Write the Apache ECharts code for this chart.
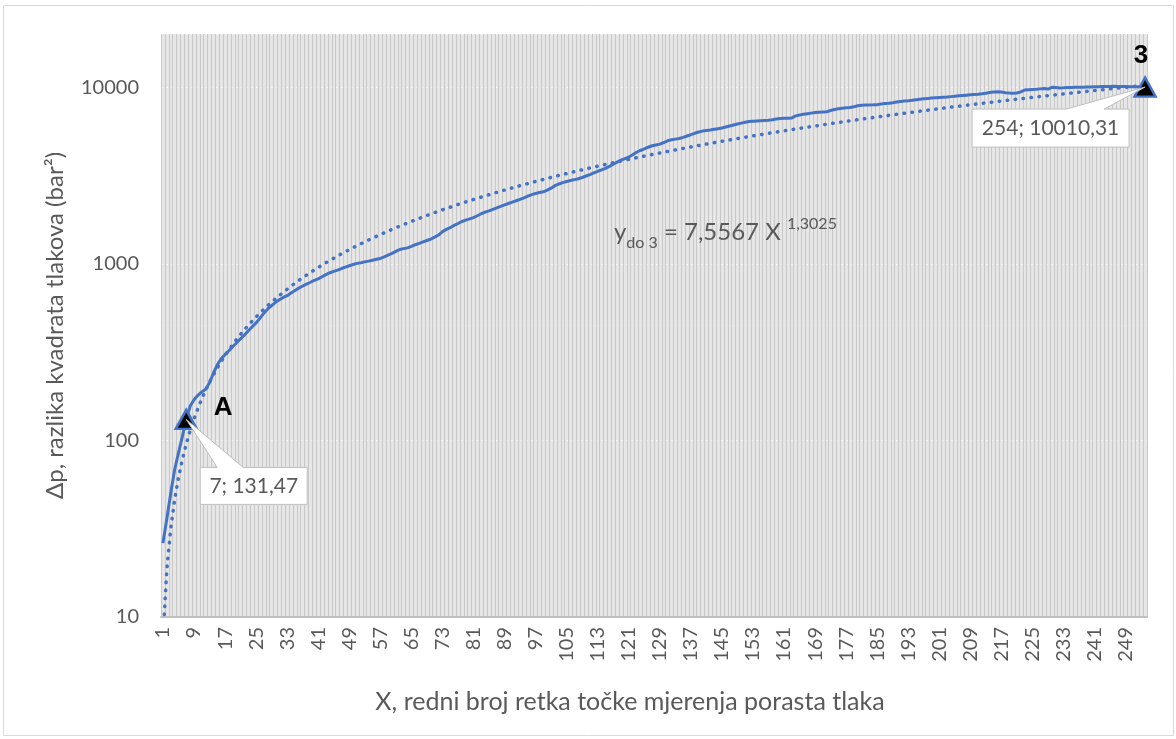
<!DOCTYPE html>
<html>
<head>
<meta charset="utf-8">
<script src="https://cdn.jsdelivr.net/npm/echarts@6/dist/echarts.min.js"></script>
<style>
html, body { margin: 0; padding: 0; background: #fff; }
#chart { width: 1176px; height: 739px; }
</style>
</head>
<body>
<div id="chart"></div>
<script>
// redni broj retka 1..254
var categories = [];
for (var i = 1; i <= 254; i++) categories.push(String(i));

// izmjereni Δp (bar²), ocitano s grafa
var measured = [
  26.2, 36, 50, 68, 85, 105, 131.47, 156, 170, 180,
  188, 195, 212, 240, 268, 290, 306, 322, 340, 357,
  376, 395, 418, 440, 463, 492, 525, 555, 580, 605,
  625, 645, 660, 683, 705, 728, 748, 768, 786, 805,
  822, 845, 868, 890, 905, 920, 940, 958, 975, 990,
  1005, 1014, 1025, 1035, 1048, 1060, 1072, 1095, 1120, 1145,
  1175, 1205, 1218, 1230, 1255, 1282, 1305, 1330, 1355, 1380,
  1415, 1455, 1520, 1565, 1600, 1650, 1690, 1735, 1765, 1795,
  1826, 1870, 1920, 1960, 1995, 2035, 2075, 2115, 2155, 2195,
  2235, 2275, 2315, 2360, 2415, 2465, 2500, 2530, 2555, 2610,
  2680, 2770, 2830, 2880, 2925, 2960, 2995, 3030, 3080, 3140,
  3200, 3270, 3340, 3400, 3470, 3560, 3660, 3760, 3860, 3940,
  4020, 4140, 4280, 4380, 4470, 4570, 4660, 4710, 4760, 4860,
  4970, 5040, 5080, 5120, 5200, 5290, 5380, 5480, 5570, 5640,
  5690, 5720, 5770, 5820, 5870, 5950, 6030, 6110, 6190, 6260,
  6330, 6390, 6420, 6440, 6460, 6480, 6500, 6540, 6610, 6650,
  6660, 6670, 6700, 6880, 6960, 7030, 7080, 7130, 7180, 7210,
  7240, 7260, 7380, 7480, 7540, 7590, 7640, 7680, 7750, 7840,
  7900, 7920, 7930, 7940, 7960, 8040, 8080, 8120, 8170, 8230,
  8290, 8340, 8380, 8430, 8490, 8550, 8590, 8630, 8670, 8710,
  8740, 8770, 8800, 8840, 8880, 8930, 8970, 9010, 9050, 9090,
  9130, 9180, 9240, 9320, 9400, 9420, 9380, 9300, 9260, 9250,
  9270, 9400, 9640, 9680, 9700, 9720, 9780, 9830, 9760, 9980,
  9950, 9900, 9920, 9950, 9960, 9980, 10000, 9990, 10010, 10030,
  10050, 10060, 10080, 10090, 10100, 10110, 10100, 10090, 10080, 10060,
  10050, 10040, 10030, 10010.31
];

// trend: y = 7,5567 X^1,3025 (jednadzba s grafa)
var trendA = 7.5567;
var trendB = 1.3025;
var trend = categories.map(function (x) { return trendA * Math.pow(Number(x), trendB); });

// oznacene tocke
var markedX = ['7', '254'];
var markedY = [131.47, 10010.31];
var markedName = ['A', '3'];
var calloutText = ['7; 131,47', '254; 10010,31'];

var yTicks = [10, 100, 1000, 10000];

var dom = document.getElementById('chart');
var myChart = echarts.init(dom);
var font = 'Lato, "Open Sans", sans-serif';
var grey = '#595959';
var blue = '#4472C4';

var option = {
    animation: false,
    textStyle: { fontFamily: font, color: grey },
    grid: {
        left: 161, right: 29, top: 34, bottom: 122,
        show: true, backgroundColor: '#e6e6e6', borderWidth: 0
    },
    xAxis: {
        type: 'category',
        data: categories,
        boundaryGap: true,
        name: 'X, redni broj retka točke mjerenja porasta tlaka',
        nameLocation: 'middle',
        nameGap: 72,
        nameTextStyle: { fontSize: 25, color: grey, fontFamily: font, padding: [0, 48, 0, 0] },
        axisLine: { lineStyle: { color: '#bfbfbf', width: 2 } },
        axisTick: { interval: 0, length: 6, lineStyle: { color: '#bfbfbf' } },
        axisLabel: {
            interval: 7, rotate: 90, fontSize: 20, color: grey, margin: 10
        },
        splitLine: { show: true, interval: 0, lineStyle: { color: '#c8c8c8', width: 1 } }
    },
    yAxis: {
        type: 'log',
        logBase: 10,
        min: 10,
        max: 20000,
        name: 'Δp, razlika kvadrata tlakova (bar²)',
        nameLocation: 'middle',
        nameGap: 94,
        nameTextStyle: { fontSize: 24, color: grey, fontFamily: font },
        axisLine: { show: false },
        axisTick: { show: false },
        axisLabel: {
            fontSize: 20, color: grey, margin: 22,
            formatter: function (v) {
                for (var k = 0; k < yTicks.length; k++) {
                    if (Math.abs(v - yTicks[k]) < 1e-6 * yTicks[k]) return String(yTicks[k]);
                }
                return '';
            }
        },
        splitLine: { show: true, lineStyle: { color: 'rgba(255,255,255,0.55)', type: [2, 3], width: 1 } }
    },
    series: [
        {
            name: 'izmjereno',
            type: 'line',
            data: measured,
            symbol: 'none',
            lineStyle: { color: blue, width: 3 },
            z: 4
        },
        {
            name: 'trend',
            type: 'line',
            data: trend,
            symbol: 'none',
            clip: true,
            lineStyle: { color: blue, width: 3.5, type: [0.5, 7.5], cap: 'round' },
            z: 3
        },
        {
            name: 'tocke',
            type: 'scatter',
            data: [[markedX[0], markedY[0]], [markedX[1], markedY[1]]],
            symbol: 'triangle',
            symbolSize: [21, 19],
            itemStyle: { color: '#000', borderColor: blue, borderWidth: 2.5, opacity: 1 },
            label: {
                show: true,
                formatter: function (p) { return markedName[p.dataIndex]; },
                fontFamily: 'Liberation Sans, Arial, sans-serif',
                fontWeight: 'bold',
                fontSize: 26,
                color: '#000',
                position: 'inside',
                offset: [0, 0]
            },
            labelLayout: function (p) {
                return p.dataIndex === 0 ? { dx: 37, dy: -12 } : { dx: -4, dy: -31 };
            },
            z: 6
        }
    ]
};

myChart.setOption(option, true);

// oblacici s vrijednostima, vezani uz tocke preko skala grafa
function callout(idx, bx, by, bw, bh, w1, w2) {
    var p = myChart.convertToPixel({ xAxisIndex: 0, yAxisIndex: 0 }, [markedX[idx], markedY[idx]]);
    var l = p[0] + bx, t = p[1] + by, r = l + bw, b = t + bh;
    return [
        {
            type: 'polygon',
            z: 10,
            shape: { points: [[l, t], [p[0] + w1, t], [p[0], p[1]], [p[0] + w2, t], [r, t], [r, b], [l, b]] },
            style: { fill: '#fff', stroke: '#bfbfbf', lineWidth: 1 }
        },
        {
            type: 'text',
            z: 11,
            x: (l + r) / 2,
            y: (t + b) / 2,
            style: {
                text: calloutText[idx],
                font: '21px ' + font,
                fill: grey,
                align: 'center',
                verticalAlign: 'middle'
            }
        }
    ];
}

var graphics = [
    {
        type: 'rect',
        z: -1,
        shape: { x: 3.5, y: 5.5, width: 1170, height: 730 },
        style: { fill: 'none', stroke: '#d9d9d9', lineWidth: 1 }
    },
    {
        type: 'text',
        z: 10,
        left: 614,
        top: 216,
        style: {
            text: '{a|y}{b|do 3}{a| = 7,5567 X }{c|1,3025}',
            fill: grey,
            rich: {
                a: { fontSize: 24, fontFamily: font, fill: grey, verticalAlign: 'bottom', height: 30 },
                b: { fontSize: 16, fontFamily: font, fill: grey, verticalAlign: 'bottom', height: 20, padding: [0, 0, -6, 0] },
                c: { fontSize: 16, fontFamily: font, fill: grey, verticalAlign: 'top', height: 30, padding: [0, 0, 8, 0] }
            }
        }
    }
];
graphics = graphics.concat(callout(0, 14, 48, 107, 37, 31, 57));
graphics = graphics.concat(callout(1, -173, 22, 157, 38, -79, -41));

myChart.setOption({ graphic: graphics });
</script>
</body>
</html>
